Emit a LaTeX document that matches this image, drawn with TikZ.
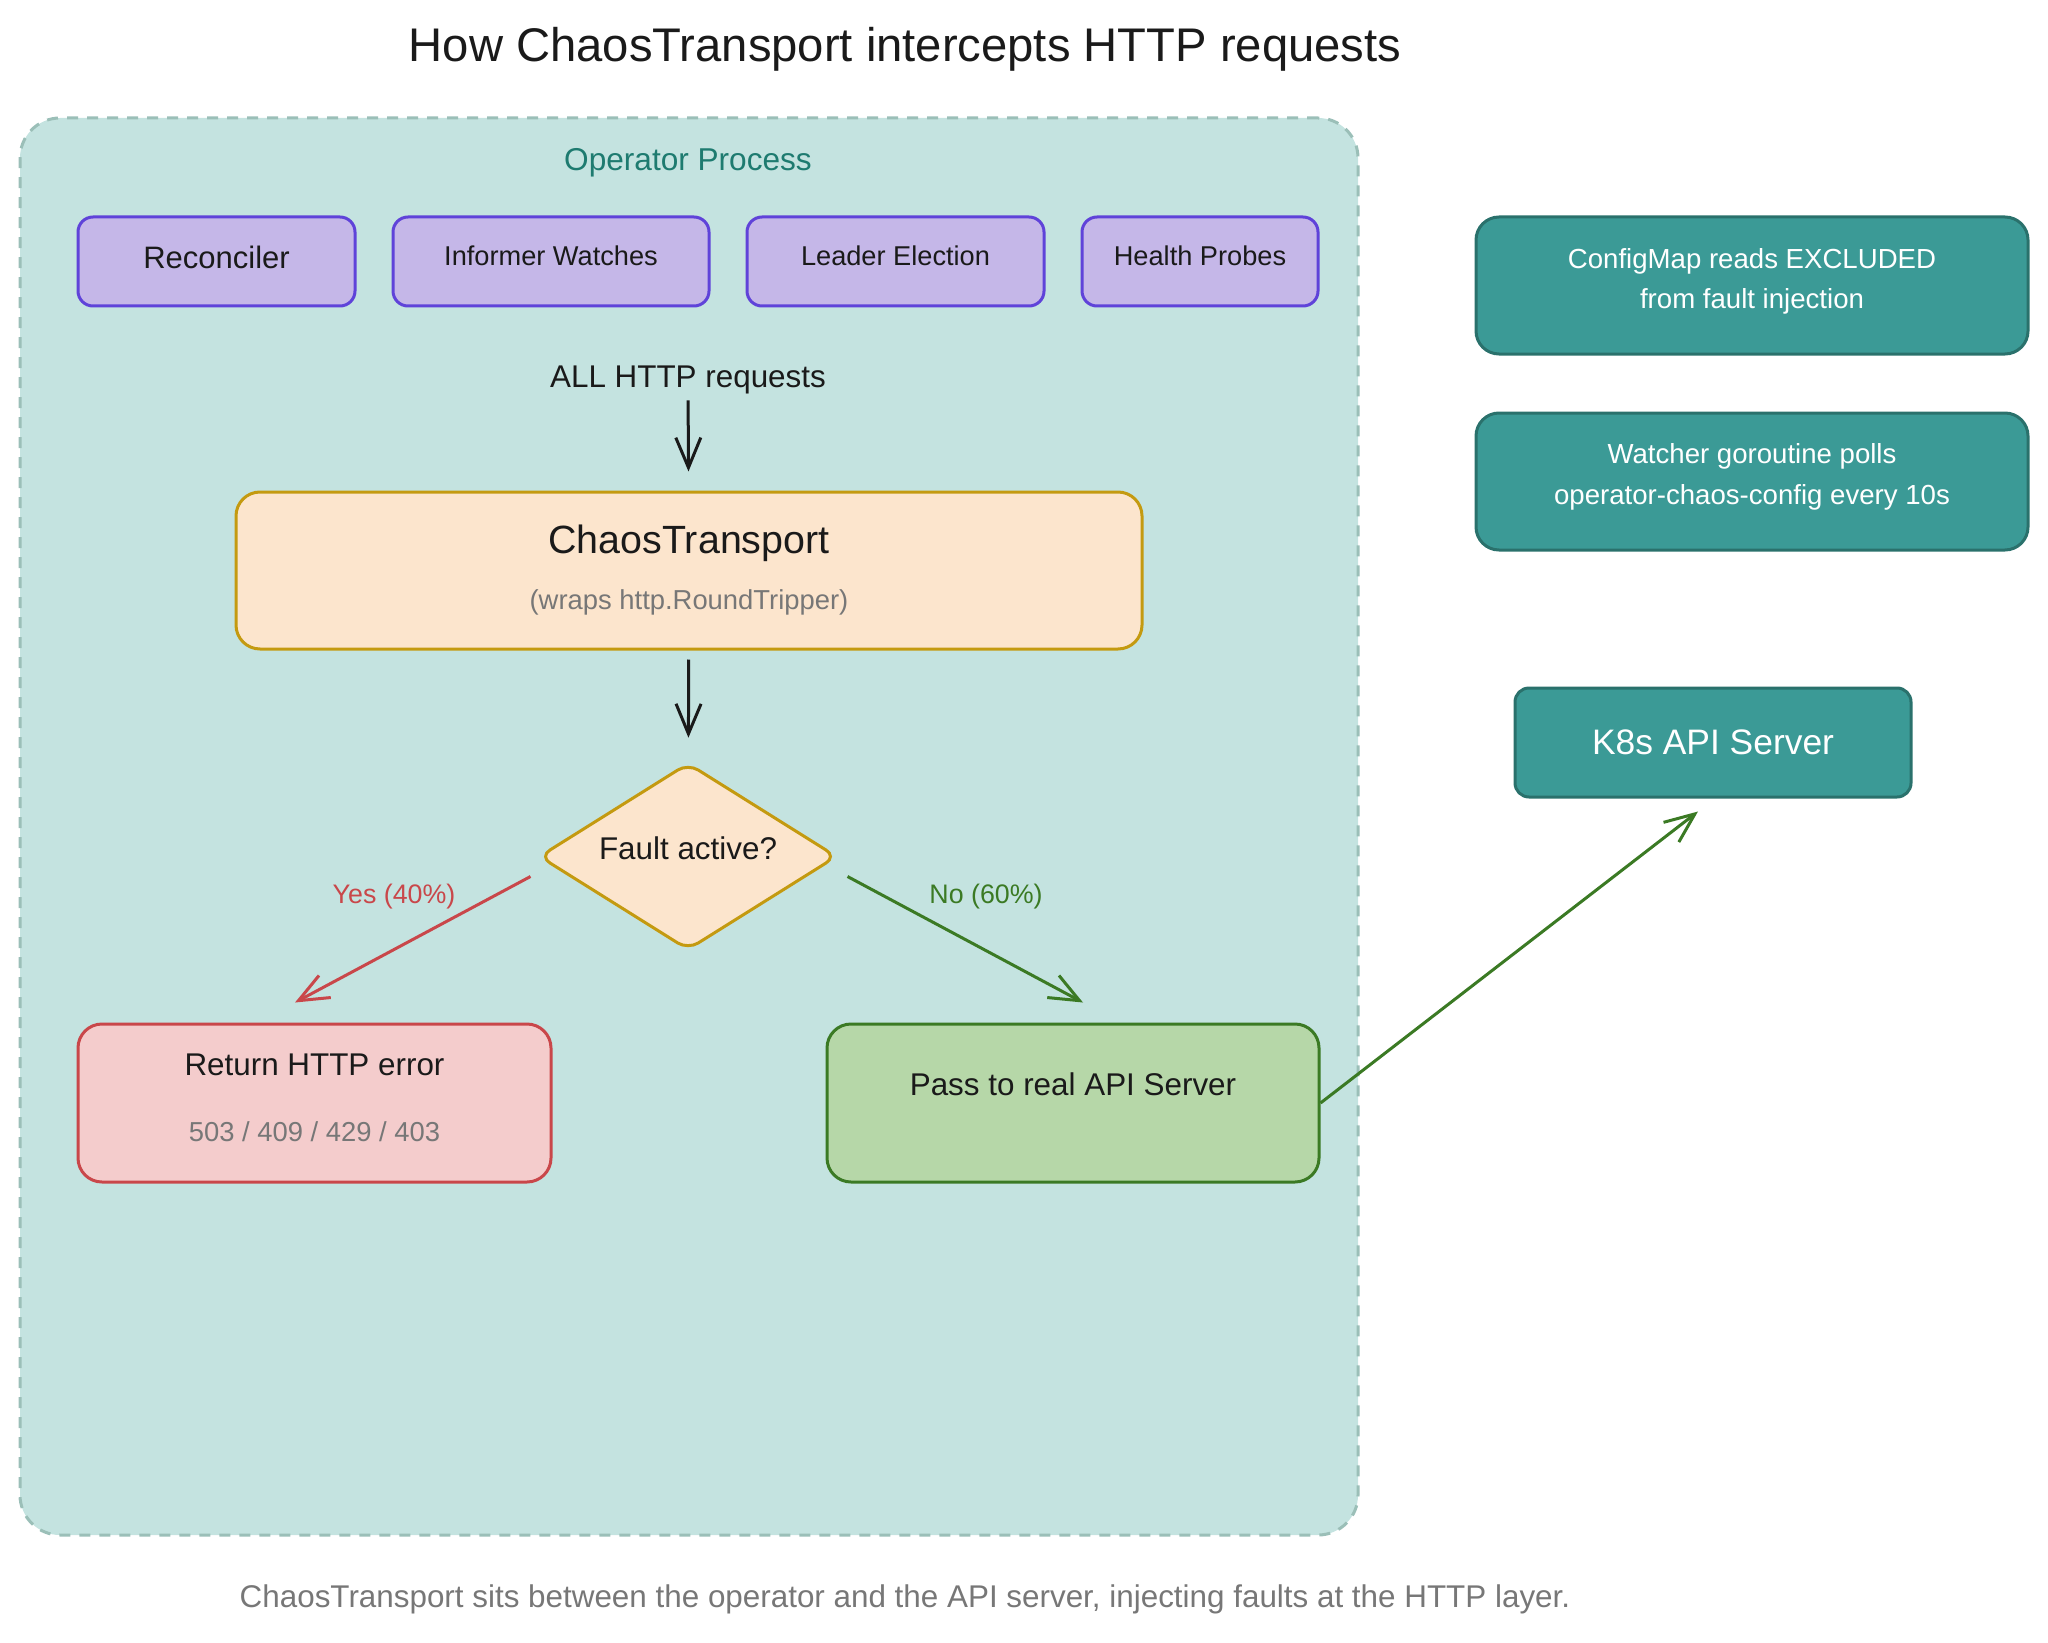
\documentclass[tikz,border=0pt]{standalone}
\usepackage{fontspec}
\setmainfont{Liberation Sans}
\usepackage{xcolor}
\usepackage{tikz}
\usetikzlibrary{arrows.meta,positioning,shapes.geometric}
\definecolor{FrameFill}{HTML}{C4E3E0}
\definecolor{FrameLine}{HTML}{9BBFB8}
\definecolor{FrameText}{HTML}{1E7B70}
\definecolor{CompFill}{HTML}{C5B7E8}
\definecolor{CompLine}{HTML}{5F43D9}
\definecolor{CoreFill}{HTML}{FCE5CD}
\definecolor{CoreLine}{HTML}{C49A10}
\definecolor{ErrFill}{HTML}{F4CCCC}
\definecolor{ErrLine}{HTML}{C9474A}
\definecolor{PassFill}{HTML}{B6D7A8}
\definecolor{PassLine}{HTML}{3B7A24}
\definecolor{NoteFill}{HTML}{3B9A96}
\definecolor{NoteLine}{HTML}{2A716C}
\definecolor{InkDark}{HTML}{1A1A1A}
\definecolor{InkGrey}{HTML}{777777}
\tikzset{
  procframe/.style={
    draw=FrameLine,
    fill=FrameFill,
    line width=1.5pt,
    dash pattern=on 5.5pt off 4.5pt,
    rounded corners=20pt,
    minimum width=669pt,
    minimum height=708.5pt
  },
  component/.style={
    draw=CompLine,
    fill=CompFill,
    line width=1.5pt,
    rounded corners=7.5pt,
    minimum height=44.5pt,
    text depth=5.5pt,
    text=InkDark,
    font=\fontsize{13.6}{16}\selectfont
  },
  transport/.style={
    draw=CoreLine,
    fill=CoreFill,
    line width=1.5pt,
    rounded corners=12pt,
    align=center,
    minimum width=453pt,
    minimum height=78.5pt,
    text=InkDark,
    font=\fontsize{13.7}{28}\selectfont
  },
  decision/.style={
    diamond,
    aspect=1.6,
    draw=CoreLine,
    fill=CoreFill,
    line width=1.5pt,
    rounded corners=6pt,
    inner sep=0pt,
    minimum width=149pt,
    minimum height=93.5pt,
    text depth=8pt,
    text=InkDark,
    font=\fontsize{15.7}{18}\selectfont
  },
  outcome/.style={
    line width=1.5pt,
    rounded corners=12pt,
    align=center,
    minimum height=79pt,
    text=InkDark,
    font=\fontsize{13.7}{33}\selectfont
  },
  sidenote/.style={
    draw=NoteLine,
    fill=NoteFill,
    line width=1.5pt,
    rounded corners=11.5pt,
    align=center,
    minimum width=276pt,
    minimum height=68.5pt,
    text=white,
    font=\fontsize{13.8}{20.5}\selectfont
  },
  plaintext/.style={inner sep=0pt, text=InkDark},
  flowarrow/.style={-{Straight Barb[length=15pt,width=12.5pt]},line width=1.5pt,draw=InkDark}
}

\begin{document}
\begin{tikzpicture}[x=0.5pt,y=-0.5pt]
    \useasboundingbox (0,0) rectangle (2048,1642);

    \node[plaintext,font=\fontsize{23.6}{28}\selectfont] (title) at (905,49) {How ChaosTransport intercepts HTTP requests};

    \node[procframe] (opframe) at (689,826.5) {};
    \node[plaintext,text=FrameText,font=\fontsize{15.8}{18}\selectfont] (optitle) at (688,163) {Operator Process};

    \node[component,minimum width=138.5pt,font=\fontsize{15.5}{18}\selectfont,text depth=4pt] (rec) at (216.5,261.5) {Reconciler};
    \node[component,minimum width=158pt,right=17.5pt of rec] (inf) {Informer Watches};
    \node[component,minimum width=148.5pt,right=17.5pt of inf] (lead) {Leader Election};
    \node[component,minimum width=118pt,right=17.5pt of lead] (health) {Health Probes};

    \node[plaintext,font=\fontsize{15.7}{18}\selectfont] (allreq) at (688,380) {ALL HTTP requests};

    \node[transport] (ct) at (689,570.5) {{\fontsize{19.7}{22}\selectfont ChaosTransport}\\{\color{InkGrey}(wraps http.RoundTripper)}};
    \node[decision] (fault) at (688,856.5) {Fault active?};

    \node[outcome,draw=ErrLine,fill=ErrFill,minimum width=236.5pt,text depth=5.5pt] (err) at (314.5,1103) {{\fontsize{15.7}{18}\selectfont Return HTTP error}\\{\color{InkGrey}503 / 409 / 429 / 403}};
    \node[outcome,draw=PassLine,fill=PassFill,minimum width=246pt,text height=12pt,text depth=20pt,font=\fontsize{15.7}{18}\selectfont] (pass) at (1073,1103) {Pass to real API Server};

    \node[plaintext,text=ErrLine,font=\fontsize{13.4}{16}\selectfont] (yes) at (394,897) {Yes (40\%)};
    \node[plaintext,text=PassLine,font=\fontsize{13.4}{16}\selectfont] (no) at (986,897) {No (60\%)};

    \node[sidenote,text depth=7pt] (cfg) at (1752,285.5) {ConfigMap reads EXCLUDED\\from fault injection};
    \node[sidenote,text depth=7.5pt,below=28pt of cfg] (watch) {Watcher goroutine polls\\operator-chaos-config every 10s};
    \node[sidenote,minimum width=198pt,minimum height=54.5pt,rounded corners=7pt,font=\fontsize{17.7}{20}\selectfont] (k8s) at (1713,742.5) {K8s API Server};

    \node[plaintext,text=InkGrey,font=\fontsize{15.7}{18}\selectfont] (caption) at (905,1599) {ChaosTransport sits between the operator and the API server, injecting faults at the HTTP layer.};

    \draw[flowarrow,shorten <=3pt,shorten >=9.5pt] (allreq) -- (ct);
    \draw[flowarrow,shorten <=4.5pt,shorten >=12pt] (ct) -- (fault);
    \draw[flowarrow,draw=ErrLine] ([xshift=-3.5pt,yshift=-10pt]fault.west) -- ([xshift=-9.75pt,yshift=10pt]err.north);
    \draw[flowarrow,draw=PassLine] ([xshift=4.5pt,yshift=-10pt]fault.east) -- ([xshift=5pt,yshift=10pt]pass.north);
    \draw[flowarrow,draw=PassLine] (pass.east) -- ([xshift=-7.5pt,yshift=-6.5pt]k8s.south);
  \end{tikzpicture}
\end{document}
